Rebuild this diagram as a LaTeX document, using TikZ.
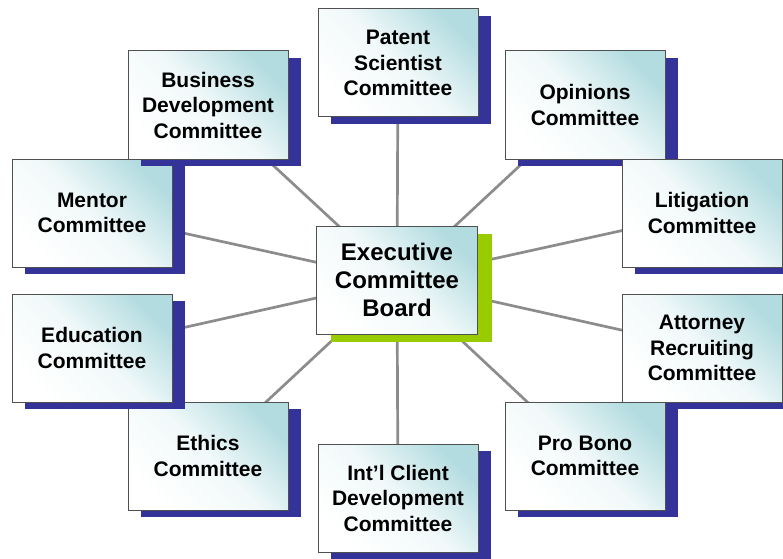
\documentclass[tikz,border=0pt]{standalone}
\usepackage{fontspec}
\setmainfont{Liberation Sans}
\usetikzlibrary{shadows,backgrounds}
\definecolor{shblue}{HTML}{333399}
\definecolor{shgreen}{HTML}{99CC00}
\definecolor{tealhi}{HTML}{B3DCE0}
\definecolor{edgegray}{HTML}{505050}
\definecolor{linkgray}{HTML}{8C8C8C}
\tikzset{
  basebox/.style={draw=edgegray, line width=1pt, minimum width=160pt, minimum height=108pt,
    inner sep=0pt, align=center, top color=tealhi, bottom color=white,
    middle color=tealhi!18!white, shading angle=-45},
  box/.style={basebox, font=\fontsize{21}{25.5}\selectfont\bfseries,
    drop shadow={shadow xshift=13pt, shadow yshift=-7pt, fill=shblue, opacity=1}},
  execbox/.style={basebox, minimum width=161pt, font=\fontsize{24}{28}\selectfont\bfseries,
    drop shadow={shadow xshift=14pt, shadow yshift=-8pt, fill=shgreen, opacity=1}},
  link/.style={draw=linkgray, line width=2.7pt}
}
\begin{document}
\begin{tikzpicture}[x=1pt,y=1pt]
\useasboundingbox (0,0) rectangle (783,558);
\clip (0,0) rectangle (783,558);
% left column, drawn bottom-up
\node[box] (eth) at (208,102) {Ethics\\Committee};
\node[box] (edu) at (92,210) {Education\\Committee};
\node[box] (men) at (92,345) {Mentor\\Committee};
\node[box] (bus) at (208,453) {Business\\Development\\Committee};
\node[box] (pat) at (398,495) {Patent\\Scientist\\Committee};
% right column, drawn top-down
\node[box] (opi) at (585,453) {Opinions\\Committee};
\node[box] (lit) at (702,345) {Litigation\\Committee};
\node[box] (att) at (702,210) {Attorney\\Recruiting\\Committee};
\node[box] (pro) at (585,102) {Pro Bono\\Committee};
\node[box] (int) at (398,60) {Int’l Client\\Development\\Committee};
% centre
\node[execbox] (exe) at (397,278) {Executive\\Committee\\Board};
\begin{scope}[on background layer]
  \foreach \t in {pat,bus,opi,men,lit,edu,att,eth,pro,int}
    \draw[link] (exe.center) -- (\t.center);
\end{scope}
\end{tikzpicture}
\end{document}
